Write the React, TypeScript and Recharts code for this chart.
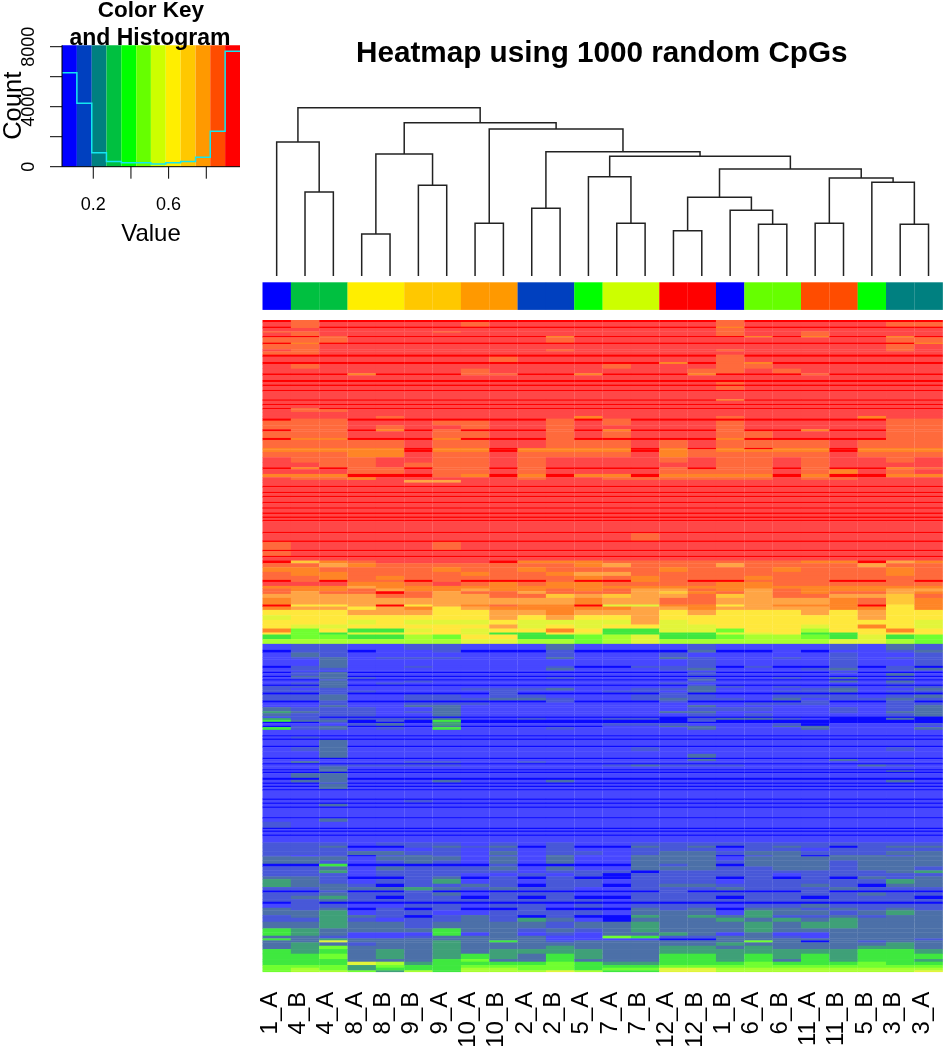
import React from "react";
import {
  BarChart, Bar, Cell, XAxis, YAxis, LineChart, Line, ReferenceArea,
} from "recharts";

const FONT = '"Liberation Sans", Arial, sans-serif';
const W = 943;
const H = 1050;

const samples = ["1_A","4_B","4_A","8_A","8_B","9_B","9_A","10_A","10_B","2_A","2_B","5_A","7_A","7_B","12_A","12_B","1_B","6_A","6_B","11_A","11_B","5_B","3_B","3_A"];
const keyColors = ["#0000ff","#0040bf","#008080","#00c040","#00ff00","#66ff00","#ccff00","#ffee00","#ffc800","#ff9900","#ff4c00","#ff0000"];
const keyEdges = [0.034,0.113,0.192,0.270,0.349,0.428,0.506,0.585,0.664,0.743,0.821,0.900,0.979];
const histCounts = [6267,4222,933,355,267,267,178,267,355,622,2355,7689,7689];
const keyTicksX = [0.2,0.4,0.6,0.8];
const keyLabelsX = [0.2,0.6];
const keyTicksY = [0,2000,4000,6000,8000];
const keyLabelsY = [0,4000,8000];

// cluster tree, in the manner of hclust: negative = leaf number (-0.5 = the first leaf), positive = earlier merge (1-based)
const mergeLeft = [-1,-0.5,-3,-5,3,-7,-9,-12,-11,-14,-17,-16,10,-19,-22,-21,14,13,9,7,6,5,2];
const mergeRight = [-2,1,-4,-6,4,-8,-10,-13,8,-15,-18,11,12,-20,-23,15,16,17,18,19,20,21,22];
const mergeHeights = [84,134,42,90.7,122,52.7,67.7,52.7,99.3,45.3,51.7,65.7,78.7,52.7,51.7,93.7,98,107,119.7,124.3,147,153.3,168.3];

const shades: Record<string,string> = {
  R:"#ff0000", r:"#ff4747", o:"#ff6a3c", O:"#ff8526", m:"#ffa545", y:"#ffc838", Y:"#ffe83c",
  j:"#e2f53a", i:"#a8ff30", g:"#70ff30", G:"#3fe83f", t:"#3fa078", T:"#4c70a8", s:"#4858d8",
  b:"#4747ff", B:"#0a0aff",
};

// [CpGs in the band, shade per sample]
const bands: [number,string][] = [
[3,"R 1o 16o"],[7,"r 1o 7o 16o 22o 23o"],[2,"R 1o 16O"],[5,"r 16o"],[2,"r 0o 1o 6o 16o 19o"],[5,"r 1o 16o 19o"],
[2,"R 2o 10O 17O 19O 22O"],[8,"r 0o 1o 2o 10o 22o 23o"],[2,"R 1O 23O"],[8,"r 0o 1o 22o"],[3,"r 1o 10o 16o 22o"],[5,"r 0o 1o"],
[3,"R 16o"],[8,"r 8o 16o"],[3,"R 14O 16o 17O"],[7,"r 1o 12o 16o 17o"],[7,"r 7o 15o 16o 18o"],[3,"R 3O 7o 8o 11O 15O 19o"],
[7,"r"],[3,"R"],[4,"r 16o"],[2,"R"],[6,"r 16o"],[2,"R"],[12,"r"],[2,"R 16O"],[5,"r"],[2,"R"],[4,"r"],[2,"R 1o"],[4,"r 1o 2o"],[6,"r"],
[4,"r 4o 11O 16o 21O"],[3,"R 1o 2o 10o 12o 22o 23o"],
[7,"r 0o 1o 2o 6o 7o 10o 12o 16o 22o 23o"],[6,"r 0o 1o 2o 4o 7o 10o 16o 22o 23o"],[3,"R 1o 2o 4O 6o 10o 12O 16o 19O 22o 23o"],
[10,"r 0o 1o 2o 6o 7o 10o 12o 16o 17o 22o 23o"],[3,"R 1O 2O 6O 10o 16O 22o 23o"],[12,"o 5r 8r 9r 13r 15r 20r"],
[2,"R 0O 1O 2O 3O 4O 6O 7O 9O 10O 11O 12O 14O 16O 18O 19O 21O 22O 23O"],[4,"O 5R 8R 13R 15o 20R"],[8,"o 5r 8r 13r 20r 3O 4O 14O"],
[8,"r 1o 2o 3o 6o 7o 9o 14o 16o 17o 19o 22o"],[7,"r 2o 3o 5o 6o 7o 9o 16o 17o 19o"],[3,"R 1O 3o 4o 6o 7o 9o 14o 16o 17o 19o 22O 23o"],
[7,"r 3o 4o 6o 7o 9o 14o 15o 16o 17o 19o 20O 22o"],[5,"R 0O 1O 2O 6o 7O 9O 11O 12O 14O 15O 16O 17O 19O 22O 23O"],
[4,"r 1o 2o 3O 9o 12o 13o 14o 15o 16o 17o 19o 20o"],[4,"r 5m 6m"],
[5,"r"],[2,"R"],[7,"r"],[2,"R"],[4,"r"],[2,"R"],[7,"r"],[2,"R"],[6,"r"],[2,"R"],[6,"r"],[2,"R"],[4,"r"],[2,"R"],[3,"r"],[2,"R"],
[16,"r"],[2,"R"],[11,"r 13o"],[2,"R"],[12,"r 0o 6o"],[2,"R"],[7,"r 0o"],
[2,"R"],[5,"r"],
[4,"RyOorrrrROOOoooooooOORmO"],[6,"oomOoooooooOmooomoooomoo"],[7,"OOooooOooOooooOoooOoooOo"],[6,"oOOooooOooOmmoooooooooOo"],
[6,"ooOoOooooooOoOoooOoooooo"],[3,"RoRooRoRRRoRROoRRoooRRoR"],[6,"rrrOOoroOoOOooooOOoooooo"],[4,"OOOmOOOOOOOOOOOOOOOOOOOO"],
[4,"oOOomOOmOOoOommoOmoOOOmm"],[4,"omooRomoomooomyOomoOoomO"],[6,"mmmmoommooymymmoymoommyo"],[10,"OmmmmmmmmmmOmmoommmmOoyO"],
[3,"RYYmRYmOoOORjjOOYmOOORYO"],[5,"OmmYmOYmOOOOOmmOmmmmOOYO"],[8,"YYYmmmYYmmOmmmYmYYYmYmYY"],[7,"jYYYYYYYmYmYYmYYYYYYYmYY"],
[7,"YYYjYjjjYjjjjmjYYYYYYYYj"],[6,"YjjYYYYYmjYjYYjjYYYjYOYj"],[6,"OgYGGjYjYYOYGGjjgYYiYYOY"],[3,"YgGjjYYjGGYjGGGGjjYGGYYY"],
[7,"GggGGigYYGGgijGGgiigGjGg"],[7,"iiiiiiijjiigijiiiiiijjig"],
[9,"bssbbssbbbTbbbbsbbbbsbTs"],[4,"BssBbbsBBBsBBBBTBBbBbbsT"],[7,"bTsbbbbbbbsbbbsbbbbbsbbs"],[3,"bsTbsssbbbTbbbTsbbsbsbss"],
[10,"bbTbbbbbbbbbbbbsbbbbsbbs"],[3,"BsTbbsbbbbsBBsssBsBBsBsB"],[4,"bssbbbbbbbTbbbsTbbbsTbsT"],[2,"b"],[2,"BsTBBBBBBBBBBBBsBBBBsBBB"],
[4,"bsTbbbbbbbbbbbbsbbbbbbTb"],[2,"BTTBBBBBBBBBBBBBBBBBBBBB"],[3,"bsTsbbbbbbsbbbbsbbsbTbsb"],[2,"BBsBBBBBBBBBBBBTBBBBBBBB"],
[3,"bbTbbsbbbbbbbbbsbbbbTbTb"],[3,"bsTbsbbbbbbbbbsbbbbbbbsb"],[2,"BBTBBBBBBBBBBBBsBBBBBBBB"],[3,"ssTbbbbbbbbbbbbTsbsbsbss"],
[4,"sbsbbbbsssTbbssTbbbsTbbT"],[3,"ssssbbbbsbbbssbTbbssTbss"],[3,"BBsBBBBBsBBBBBsBBBBBBBBB"],[5,"ssTbbssbssbbbsssbbsssbsT"],
[4,"ssTbbsssTTsbbsTssbTbssTs"],[3,"BBsBBBBBBBsBBBsBBBBsBBsB"],[4,"bbsbbsssbbbbbbbbbsssbbss"],[3,"bbTbbTTbbbbbbbbTbbbbbbsT"],
[6,"TsssbbTbbbbbbbbsssbbsbsT"],[3,"tTssbsTbbbbbbbTTbbbbsbTT"],[5,"TsssbbTbbbbbbbbsbsbbbbsT"],[2,"bsBBBBBBBBBBBBBBBBBBBBBB"],
[3,"tsssssTbbsbbssBsTTsbBBTB"],[3,"GTTBsBGBBBBBBBBsBBBBBBBB"],[2,"BBsBBBtBBBBBBBBBBBBBBBBB"],[4,"bbbsTbtbbbbbsssbbbsBbbbs"],
[2,"BsTBBBTBBBBBbbTTbbTTbbbb"],[4,"GsTbsbGbbbsbbbbTbbbTbbbT"],[8,"b"],[2,"B"],[3,"b 1s"],[2,"B"],[9,"b 2T"],[2,"B 2T"],
[6,"b 1s 2T 13s 22s"],[4,"b 2T"],[6,"b 2T 15T"],[2,"B"],[3,"b 15T 20T"],
[3,"b 1T 5s 6s 9s"],[2,"B"],[3,"bbsssssbbbbbsTsssbbbbTsb"],[4,"b 2T"],[2,"B 2T"],[2,"b 2T 22T"],[2,"B"],[7,"b 1T 2T"],[3,"B 2T"],
[4,"b 1T 2T 6T 10T 22T"],[2,"B 2s"],[3,"b 2T"],[2,"B 2T"],[3,"b 2T"],[2,"B"],[12,"b"],[2,"B"],[4,"b 5s"],[2,"B"],[4,"b 2T"],[2,"B"],
[14,"b"],[2,"B"],[5,"b 2T"],[9,"b 0s"],[2,"B"],[2,"b"],[2,"B"],[4,"b"],[2,"B"],[3,"b"],[7,"b"],
[5,"sssbsssbsbsbbsssssssssss"],[3,"ssTBBsTsTBsBBTsTBsTsBsTT"],[5,"sssbbbsbsbsbbsssbssbssss"],[6,"sssTTssbTbssbsTTsTTsssTT"],
[2,"sbsBsTsbsbTbbTTTBsTBTTsT"],[6,"TTTbTTTbTbTbbTTTbTTTTTTT"],[5,"TTsbsTsbTbTbbTTTsTTTsTTT"],[4,"BBGBBBBBsBBBBTsTBTTTsTTT"],
[6,"ssTbTsssTbTbbTTTssTTsTTs"],
[4,"sstbsssssbsssBssssssssTt"],[5,"sssbsssbbsbsBsssssbsssss"],[4,"TTsBBsTBsBsBBsssBsBsBTsT"],[7,"tTsbsstbsbssbsssbssssstT"],
[5,"tTTsBssTsBssBsTTsssTsBTT"],[5,"ssTTTtTsTssbbsssTsssTsss"],[3,"BBsBBsBBBBBBBBsBBBBsBBBB"],[5,"ssTsssTbsssbbssssssssTss"],
[5,"sTtsBssBsBsBBsssBssBsssB"],[4,"ssTsssssssssbsssssssssss"],[3,"BsBBBBBBBBBBBBBBBBBBBBBB"],[6,"bssbbssbssbsbsssbssTssss"],
[4,"TsTBsBsBBsBBBTsTBTTsTsTs"],[7,"TTtbssbbssssbTTTbtTTsTtT"],[4,"sTtTsBsTsBsBBtTtTtssTsTT"],[6,"sstsbssTstTbBTTTtTtTtTTT"],
[10,"TTtTTsTTTTsTTtTTTtTttTTT"],[6,"GtTTTTGTTsTsTtTTTtTTTTTT"],[5,"GtTbbbGbTbsbTTtTbTbbTTTT"],[4,"TTsbbsTTTTbbgGssTTsbTTTT"],
[3,"GTtTTTTTTTbbbbBBTTTTTTTs"],[3,"TTjTTTtTGTsTTTTTTgTBTsTT"],[5,"TtTsTTtTTTTTTTTTtTTTTTtT"],[5,"TtgTTTtTTTtTTTttTtTTTttT"],
[7,"GtGTtTtTttttTTtttttttGGt"],[8,"GGgTtTtGtTGtTTGGtGtGtGGG"],[4,"GGGTTTGgTTGTTTGGtGTGtGGt"],[5,"GGGjitGGGGgGttGGGgGGGgGG"],
[4,"gggtgGGggggGGGgggggggggg"],[4,"gigtGGGiiggGggjjiiiiiiii"],[2,"giigtiGiiijiGGjjiiiiiiij"],
];

const bandCount = bands.reduce((s, b) => s + b[0], 0);

function expandCells(spec: string): string[] {
  if (/\d/.test(spec) || spec.length === 1) {
    const parts = spec.split(" ");
    const out = Array.from({ length: 24 }, () => parts[0]);
    parts.slice(1).forEach((p) => { out[parseInt(p, 10)] = p.slice(-1); });
    return out;
  }
  const out = spec.split("");
  while (out.length < 24) out.push(out[out.length - 1]);
  return out.slice(0, 24);
}
const bandCells = bands.map((b) => expandCells(b[1]));

const heatRows = samples.map((name) => {
  const row: Record<string, number | string> = { name };
  bands.forEach((b, i) => { row["b" + i] = b[0]; });
  return row;
});

const stripRows = samples.map((name) => ({ name, v: 1, group: parseInt(name, 10) }));

// dendrogram links
const nodeX: number[] = [];
const pos = (ref: number) => {
  if (ref === -0.5) return 0.5;
  if (ref < 0) return -ref + 0.5;
  return nodeX[ref - 1];
};
const ht = (ref: number) => (ref < 0 ? 0 : mergeHeights[ref - 1]);
const links = mergeLeft.map((l, i) => {
  const r = mergeRight[i];
  const a = pos(l), b = pos(r), top = mergeHeights[i];
  nodeX[i] = (a + b) / 2;
  return [
    { x: a, h: ht(l) }, { x: a, h: top }, { x: b, h: top }, { x: b, h: ht(r) },
  ];
});

const histRows = keyEdges.map((x, i) => ({ x, count: histCounts[i] }));

const layer: React.CSSProperties = { position: "absolute", left: 0, top: 0 };

// cells are drawn a hair larger so that neighbouring bands leave no seam
function HeatCell(props: any) {
  const { x, y, width, height, fill } = props;
  const top = height < 0 ? y + height : y;
  const size = Math.abs(height);
  return <rect x={x} y={top} width={width + 0.5} height={size + 0.4} fill={fill} />;
}

function SampleTick(props: any) {
  const { x, y, payload } = props;
  return (
    <text x={x} y={y} transform={`rotate(-90 ${x} ${y})`} textAnchor="end" fontFamily={FONT} fontSize={24} fill="#000">
      {payload.value}
    </text>
  );
}

function CountTick(props: any) {
  const { x, y, payload } = props;
  if (!keyLabelsY.includes(payload.value)) return <g />;
  const tx = x - 14;
  return (
    <text x={tx} y={y} transform={`rotate(-90 ${tx} ${y})`} textAnchor="middle" fontFamily={FONT} fontSize={18} fill="#000">
      {payload.value}
    </text>
  );
}

export default function App() {
  return (
    <div style={{ position: "absolute", left: 0, top: 0, width: W, height: H, overflow: "hidden", background: "#fff", filter: "blur(0.4px)" }}>
      <div style={layer}>
        <BarChart width={W} height={H} data={heatRows} barCategoryGap={0} margin={{ left: 262.5, right: 0.3, top: 320, bottom: 0 }}>
          <XAxis dataKey="name" type="category" interval={0} height={78.3} tick={SampleTick} tickLine={false} axisLine={false} tickSize={0} tickMargin={20} padding={{ left: 0, right: 0 }} />
          <YAxis hide reversed type="number" domain={[0, bandCount]} />
          {bands.map((b, i) => (
            <Bar key={i} dataKey={"b" + i} stackId="heat" isAnimationActive={false} stroke="none" shape={HeatCell}>
              {samples.map((s, c) => <Cell key={s} fill={shades[bandCells[i][c]]} />)}
            </Bar>
          ))}
        </BarChart>
      </div>

      <div style={layer}>
        <BarChart width={W} height={H} data={stripRows} barCategoryGap={0} margin={{ left: 262.5, right: 0.3, top: 282.3, bottom: 740.5 }}>
          <XAxis dataKey="name" type="category" hide />
          <YAxis hide type="number" domain={[0, 1]} />
          <Bar dataKey="v" isAnimationActive={false} shape={HeatCell}>
            {stripRows.map((r) => <Cell key={r.name} fill={keyColors[r.group - 1]} />)}
          </Bar>
        </BarChart>
      </div>

      <div style={layer}>
        <LineChart width={W} height={H} margin={{ left: 262.5, right: 0.3, top: 106, bottom: 774 }}>
          <XAxis type="number" dataKey="x" hide domain={[0, 24]} />
          <YAxis type="number" hide domain={[0, 170]} />
          {links.map((d, i) => (
            <Line key={i} data={d} dataKey="h" type="linear" stroke="#222" strokeWidth={1.5} dot={false} isAnimationActive={false} legendType="none" />
          ))}
        </LineChart>
      </div>

      <div style={layer}>
        <LineChart width={W} height={H} data={histRows} margin={{ left: 22, right: 703, top: 45.3, bottom: 843.3 }}>
          <XAxis type="number" dataKey="x" domain={[0.034, 0.979]} ticks={keyTicksX} height={40} tickSize={12} tickMargin={19}
            tickFormatter={(v: number) => (keyLabelsX.includes(v) ? String(v) : "")}
            stroke="#000" tick={{ fontFamily: FONT, fontSize: 18, fill: "#000" }} />
          <YAxis type="number" domain={[0, 8093]} ticks={keyTicksY} width={40} tickSize={12} tickMargin={2} stroke="#000" tick={CountTick} />
          {keyColors.map((c, i) => (
            <ReferenceArea key={c} x1={keyEdges[i]} x2={keyEdges[i + 1]} y1={0} y2={8093} fill={c} fillOpacity={1} stroke="none" />
          ))}
          <Line dataKey="count" type="stepAfter" stroke="#14e6f0" strokeWidth={1.5} dot={false} isAnimationActive={false} />
        </LineChart>
      </div>

      <svg width={W} height={H} style={layer}>
        <g fontFamily={FONT} fill="#000">
          <text x={151} y={17} textAnchor="middle" fontWeight="bold" fontSize={22.5}>Color Key</text>
          <text x={150} y={45} textAnchor="middle" fontWeight="bold" fontSize={23}>and Histogram</text>
          <text x={601.8} y={61.7} textAnchor="middle" fontWeight="bold" fontSize={29.7}>Heatmap using 1000 random CpGs</text>
          <text x={151} y={240.7} textAnchor="middle" fontSize={24}>Value</text>
          <text x={20.6} y={105.8} textAnchor="middle" fontSize={25.5} transform="rotate(-90 20.6 105.8)">Count</text>
        </g>
      </svg>
    </div>
  );
}
